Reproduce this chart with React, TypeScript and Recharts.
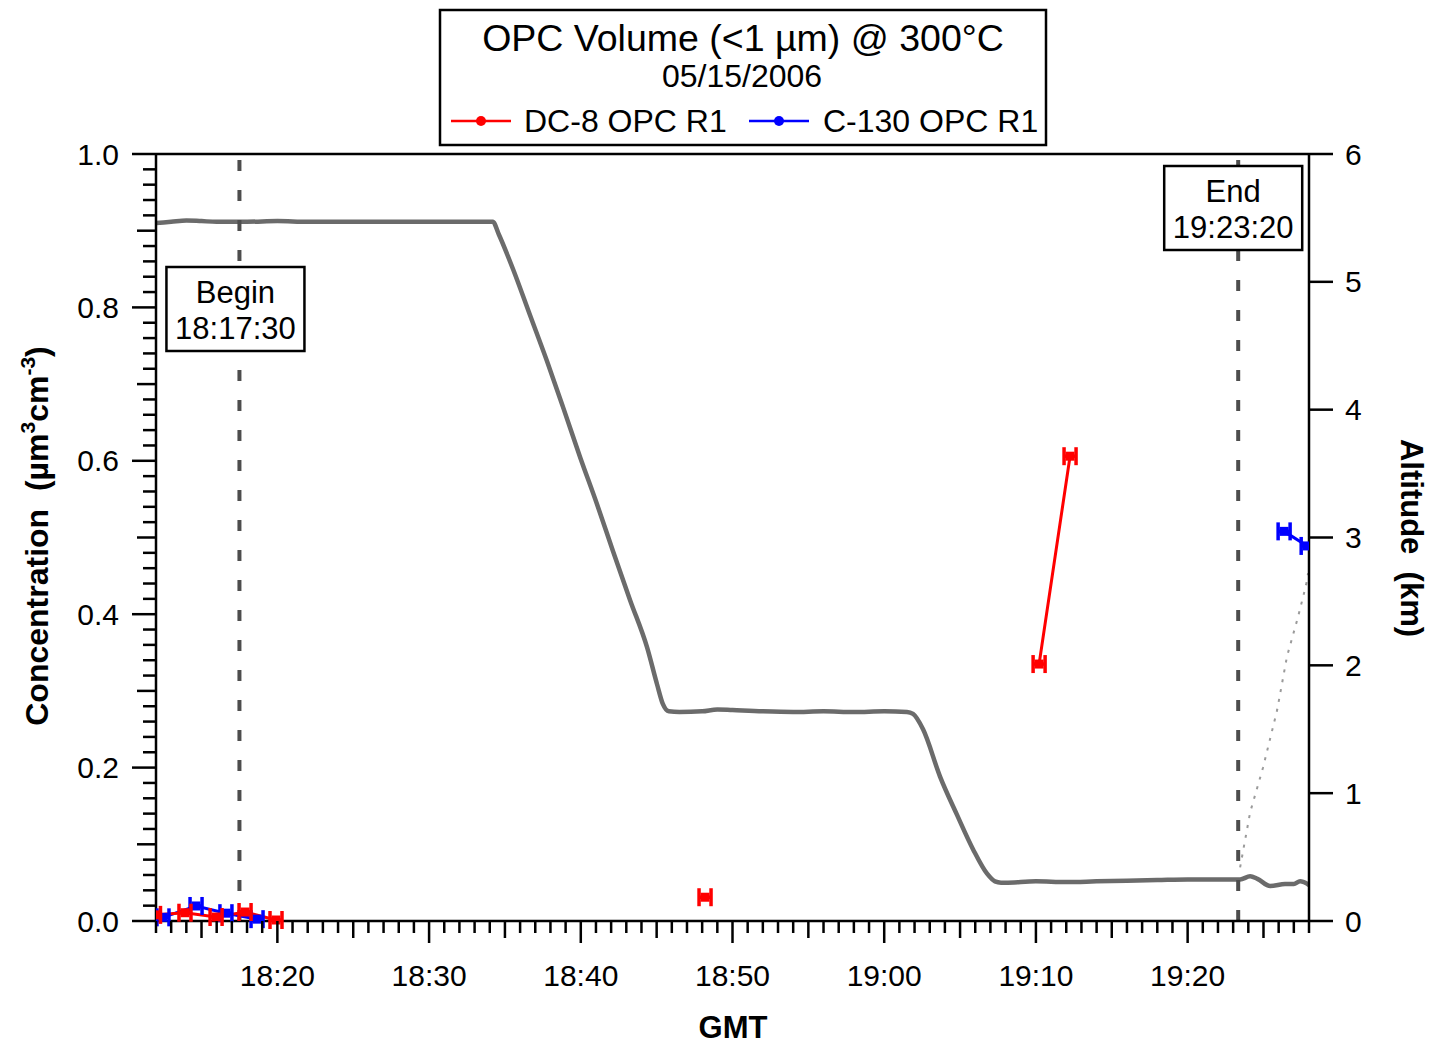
import React from "react";
import { ComposedChart, Line, XAxis, YAxis, ReferenceLine } from "recharts";

const FONT = '"Liberation Sans", Arial, Helvetica, sans-serif';

// time is in minutes after 18:00 GMT
const dc8AltTime = [
  12, 13, 14, 15, 16, 18, 20, 22, 24, 26, 28, 30, 32, 34.2, 34.6, 35.53, 36.65, 37.77, 38.83,
  39.95, 41.07, 42.13, 43.25, 44.37, 45.03, 45.4, 45.8, 46.5, 48, 49, 50, 52, 54, 56, 58, 60,
  61.5, 61.9, 62.56, 63.68, 64.8, 65.86, 66.78, 67.3, 67.7, 68, 70, 72, 74, 76, 78, 80, 82,
  83.46, 84.12, 84.6, 85.44, 86.42, 87.0, 87.41, 88,
];
const dc8AltKm = [
  5.46, 5.47, 5.48, 5.475, 5.47, 5.47, 5.475, 5.47, 5.47, 5.47, 5.47, 5.47, 5.47, 5.47, 5.37, 5.1,
  4.74, 4.38, 4.02, 3.63, 3.26, 2.89, 2.51, 2.14, 1.85, 1.7, 1.64, 1.635, 1.64, 1.655, 1.65, 1.64,
  1.635, 1.64, 1.635, 1.64, 1.635, 1.62, 1.5, 1.13, 0.83, 0.56, 0.37, 0.31, 0.3, 0.3, 0.31,
  0.305, 0.31, 0.315, 0.32, 0.325, 0.325, 0.325, 0.35, 0.33, 0.274, 0.289, 0.29, 0.31, 0.282,
];

const c130AltTime = [83.46, 84.12, 84.97, 85.9, 86.55, 87.28, 87.81, 87.94];
const c130AltKm = [0.42, 0.85, 1.2, 1.65, 2.07, 2.38, 2.63, 2.72];

const dc8Time = [11.9, 13.91, 15.96, 17.87, 19.91, 34, 48.19, 60, 70.21, 72.25];
const dc8Conc = [0.008, 0.0108, 0.0052, 0.0117, 0.0013, null, 0.031, null, 0.335, 0.606];

const c130Time = [12.46, 14.64, 16.61, 18.66, 50, 86.36, 87.88];
const c130Conc = [0.0048, 0.0196, 0.0102, 0.0024, null, 0.508, 0.489];

const xLabelMinutes = [20, 30, 40, 50, 60, 70, 80];
const xTickLabels = ["18:20", "18:30", "18:40", "18:50", "19:00", "19:10", "19:20"];
const concTicks = [0, 0.2, 0.4, 0.6, 0.8, 1.0];
const concTickLabels = ["0.0", "0.2", "0.4", "0.6", "0.8", "1.0"];
const altTicks = [0, 1, 2, 3, 4, 5, 6];
const altTickLabels = ["0", "1", "2", "3", "4", "5", "6"];

const beginMin = 17.5;
const beginText = ["Begin", "18:17:30"];
const endMin = 83 + 20 / 60;
const endText = ["End", "19:23:20"];

const zip = (t: number[], v: (number | null)[]) => t.map((x, i) => ({ t: x, v: v[i] }));

const xTicks: number[] = [];
for (let m = 12; m <= 88; m++) xTicks.push(m);
const concMinor: number[] = [];
for (let k = 0; k <= 50; k++) concMinor.push(k / 50);

const XTick = (props: any) => {
  const { x, y, payload } = props;
  const m = Math.round(payload.value);
  const len = m % 10 === 0 ? 22 : m % 5 === 0 ? 17 : 12;
  const idx = xLabelMinutes.indexOf(m);
  return (
    <g>
      <line x1={x} x2={x} y1={y} y2={y + len} stroke="#000" strokeWidth={2.5} />
      {idx >= 0 && (
        <text x={x} y={y + 54} dy="0.35em" textAnchor="middle" fontSize={30} fontFamily={FONT} fill="#000">
          {xTickLabels[idx]}
        </text>
      )}
    </g>
  );
};

const ConcTick = (props: any) => {
  const { x, y, payload } = props;
  const k = Math.round(payload.value * 100);
  const len = k % 20 === 0 ? 24 : k % 10 === 0 ? 19 : 13;
  const idx = concTicks.findIndex((c) => Math.round(c * 100) === k);
  return (
    <g>
      <line x1={x} x2={x - len} y1={y} y2={y} stroke="#000" strokeWidth={2.5} />
      {idx >= 0 && (
        <text x={x - 37} y={y} dy="0.35em" textAnchor="end" fontSize={30} fontFamily={FONT} fill="#000">
          {concTickLabels[idx]}
        </text>
      )}
    </g>
  );
};

const AltTick = (props: any) => {
  const { x, y, payload } = props;
  const idx = altTicks.indexOf(Math.round(payload.value));
  return (
    <g>
      <line x1={x} x2={x + 24} y1={y} y2={y} stroke="#000" strokeWidth={2.5} />
      <text x={x + 36} y={y} dy="0.35em" textAnchor="start" fontSize={30} fontFamily={FONT} fill="#000">
        {altTickLabels[idx]}
      </text>
    </g>
  );
};

const errMark = (color: string) => (p: any) => {
  const { cx, cy, index } = p;
  if (cx == null || cy == null || p.value == null || p.payload?.v == null) return <g key={index} />;
  return (
    <g key={index} stroke={color} strokeWidth={3.5} fill={color}>
      <line x1={cx - 6} x2={cx + 6} y1={cy} y2={cy} />
      <line x1={cx - 6} x2={cx - 6} y1={cy - 9} y2={cy + 9} />
      <line x1={cx + 6} x2={cx + 6} y1={cy - 9} y2={cy + 9} />
      <rect x={cx - 4.5} y={cy - 4.5} width={9} height={9} stroke="none" />
    </g>
  );
};

const boxLabel = (lines: string[], dx: number, top: number) => (p: any) => {
  const vb = p.viewBox || { x: 0, y: 0 };
  const cx = vb.x + dx;
  const y0 = vb.y + top;
  return (
    <g>
      <rect x={cx - 69} y={y0} width={138} height={84} fill="#fff" stroke="#000" strokeWidth={2.5} />
      <text x={cx} y={y0 + 36} textAnchor="middle" fontSize={31} fontFamily={FONT} fill="#000">
        {lines[0]}
      </text>
      <text x={cx} y={y0 + 72} textAnchor="middle" fontSize={31} fontFamily={FONT} fill="#000">
        {lines[1]}
      </text>
    </g>
  );
};

export default function App() {
  return (
    <div style={{ position: "absolute", left: 0, top: 0, width: 1435, height: 1044, background: "#fff", fontFamily: FONT }}>
      <ComposedChart width={1435} height={1044} margin={{ top: 154, right: 66, bottom: 63, left: 96 }}>
        <XAxis
          type="number"
          dataKey="t"
          domain={[12, 88]}
          allowDataOverflow
          ticks={xTicks}
          interval={0}
          tickSize={0}
          tickMargin={0}
          tickLine={false}
          tick={<XTick />}
          axisLine={{ stroke: "#000", strokeWidth: 2.5 }}
          height={60}
        />
        <YAxis
          yAxisId="conc"
          type="number"
          domain={[0, 1]}
          ticks={concMinor}
          interval={0}
          tickSize={0}
          tickMargin={0}
          tickLine={false}
          tick={<ConcTick />}
          axisLine={{ stroke: "#000", strokeWidth: 2.5 }}
          width={60}
        />
        <YAxis
          yAxisId="alt"
          orientation="right"
          type="number"
          domain={[0, 6]}
          ticks={altTicks}
          interval={0}
          tickSize={0}
          tickMargin={0}
          tickLine={false}
          tick={<AltTick />}
          axisLine={{ stroke: "#000", strokeWidth: 2.5 }}
          width={60}
        />
        <ReferenceLine yAxisId="conc" y={1} stroke="#000" strokeWidth={2.5} />
        <Line
          yAxisId="alt"
          type="monotone"
          data={zip(dc8AltTime, dc8AltKm)}
          dataKey="v"
          stroke="#6b6b6b"
          strokeWidth={4.5}
          dot={false}
          activeDot={false}
          isAnimationActive={false}
        />
        <Line
          yAxisId="alt"
          data={zip(c130AltTime, c130AltKm)}
          dataKey="v"
          stroke="#9a9a9a"
          strokeWidth={2}
          strokeDasharray="3 7"
          dot={false}
          activeDot={false}
          isAnimationActive={false}
        />
        <ReferenceLine
          yAxisId="conc"
          x={beginMin}
          stroke="#4d4d4d"
          strokeWidth={4}
          strokeDasharray="11 19"
          label={boxLabel(beginText, -4, 113)}
        />
        <ReferenceLine
          yAxisId="conc"
          x={endMin}
          stroke="#4d4d4d"
          strokeWidth={4}
          strokeDasharray="11 19"
          label={boxLabel(endText, -5, 12)}
        />
        <Line
          yAxisId="conc"
          data={zip(c130Time, c130Conc)}
          dataKey="v"
          stroke="#0000ff"
          strokeWidth={3}
          dot={errMark("#0000ff")}
          activeDot={false}
          isAnimationActive={false}
        />
        <Line
          yAxisId="conc"
          data={zip(dc8Time, dc8Conc)}
          dataKey="v"
          stroke="#ff0000"
          strokeWidth={3}
          dot={errMark("#ff0000")}
          activeDot={false}
          isAnimationActive={false}
        />
      </ComposedChart>
      <svg width={1435} height={1044} style={{ position: "absolute", left: 0, top: 0, pointerEvents: "none" }}>
        <rect x={440} y={10} width={606} height={135} fill="#fff" stroke="#000" strokeWidth={2.5} />
        <text x={743} y={51} textAnchor="middle" fontSize={37.5} fontFamily={FONT} fill="#000">
          OPC Volume (&lt;1 µm) @ 300°C
        </text>
        <text x={742} y={87} textAnchor="middle" fontSize={32} fontFamily={FONT} fill="#000">
          05/15/2006
        </text>
        <line x1={451} x2={511} y1={121} y2={121} stroke="#ff0000" strokeWidth={2.5} />
        <circle cx={481} cy={121} r={5} fill="#ff0000" />
        <text x={524} y={132} fontSize={32} fontFamily={FONT} fill="#000">DC-8 OPC R1</text>
        <line x1={749} x2={809} y1={121} y2={121} stroke="#0000ff" strokeWidth={2.5} />
        <circle cx={779} cy={121} r={5} fill="#0000ff" />
        <text x={823} y={132} fontSize={32} fontFamily={FONT} fill="#000">C-130 OPC R1</text>

        <text x={733} y={1038} textAnchor="middle" fontSize={31} fontWeight="bold" fontFamily={FONT} fill="#000">
          GMT
        </text>
        <text
          transform="translate(48,536) rotate(-90)"
          textAnchor="middle"
          fontSize={32}
          fontWeight="bold"
          fontFamily={FONT}
          fill="#000"
          style={{ whiteSpace: "pre" }}
        >
          {"Concentration  (µm"}
          <tspan dy={-13} fontSize={21}>3</tspan>
          <tspan dy={13}>cm</tspan>
          <tspan dy={-13} fontSize={21}>-3</tspan>
          <tspan dy={13}>)</tspan>
        </text>
        <text
          transform="translate(1401,538) rotate(90)"
          textAnchor="middle"
          fontSize={31}
          fontWeight="bold"
          fontFamily={FONT}
          fill="#000"
          style={{ whiteSpace: "pre" }}
        >
          {"Altitude  (km)"}
        </text>
      </svg>
    </div>
  );
}
